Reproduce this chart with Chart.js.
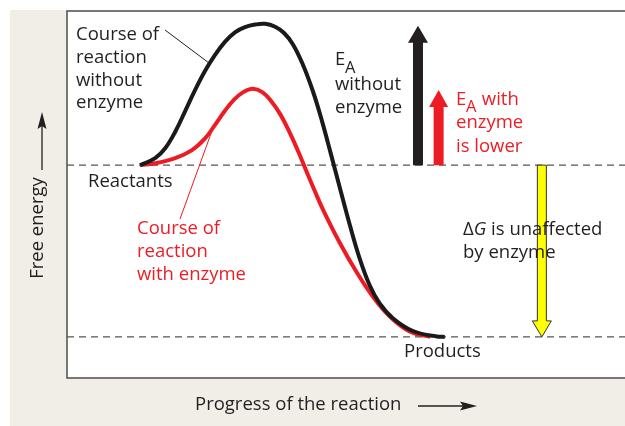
<!DOCTYPE html>
<html>
<head>
<meta charset="utf-8">
<script src="https://cdn.jsdelivr.net/npm/chart.js@4/dist/chart.umd.min.js"></script>
<style>
html,body{margin:0;padding:0;background:#fff;}
canvas{display:block;}
</style>
</head>
<body>
<canvas id="c" width="625" height="426"></canvas>
<script>
// ---- data (progress 0-100, free energy 0-100) ----
const progressWithout = [13.1, 15.8, 17.6, 19.4, 21.2, 22.9, 24.7, 26.5, 28.3, 30.1, 31.9, 33.7, 35.5, 37.3, 38.9, 40.5, 42.3, 44.1, 45.7, 47.3, 49.0, 50.7, 52.4, 54.2, 56.0, 58.4, 62.0, 66.3, 67.7];
const energyWithout   = [58.0, 59.9, 62.6, 67.1, 72.8, 78.3, 83.6, 88.0, 91.6, 94.2, 95.6, 96.3, 96.5, 95.7, 94.0, 90.9, 85.3, 78.0, 70.0, 61.0, 51.2, 41.6, 32.8, 25.4, 20.4, 16.3, 12.8, 11.3, 11.2];
const progressWith    = [13.1, 15.8, 19.4, 22.4, 24.7, 26.5, 28.2, 29.9, 31.6, 33.3, 35.0, 36.6, 38.2, 40.0, 41.5, 43.0, 44.5, 46.0, 48.9, 52.0, 54.8, 57.9, 61.5, 65.1];
const energyWith      = [58.0, 58.5, 59.9, 62.1, 65.2, 68.9, 72.6, 75.8, 77.9, 78.8, 77.9, 75.4, 71.9, 66.6, 61.5, 56.0, 50.6, 45.5, 36.8, 28.6, 22.2, 16.7, 12.6, 11.2];
const reactantsLevel = 58.0;
const productsLevel = 11.2;
const peakWithout = 96.0;
const peakWith = 78.5;
const arrowProgress = [62.9, 66.6, 85.1]; // EA without, EA with, deltaG

function pts(xs, ys){ return xs.map((x,i)=>({x:x, y:ys[i]})); }

const FONT = '"Open Sans", "Noto Sans", sans-serif';
const FS = 18.5;
const TXT = '#231f20';
const RED = '#ed1c24';

const decor = {
  id:'decor',
  beforeDraw(chart){
    const ctx = chart.ctx, a = chart.chartArea;
    ctx.save();
    ctx.fillStyle = '#ffffff';
    ctx.fillRect(0,0,chart.width,chart.height);
    ctx.fillStyle = '#f1eee7';
    ctx.fillRect(10,10,chart.width-10,chart.height-10);
    ctx.fillStyle = '#ffffff';
    ctx.fillRect(a.left,a.top,a.right-a.left,a.bottom-a.top);
    ctx.strokeStyle = '#4d4d4d';
    ctx.lineWidth = 1.5;
    ctx.beginPath();
    ctx.moveTo(chart.width, a.top); ctx.lineTo(a.left, a.top); ctx.lineTo(a.left, a.bottom); ctx.lineTo(chart.width, a.bottom);
    ctx.stroke();
    ctx.restore();
  },
  afterDatasetsDraw(chart){
    const ctx = chart.ctx, xs = chart.scales.x, ys = chart.scales.y;
    function upArrow(xv, y0v, y1v, fill, stroke, shaftW, headW, headH){
      const x = xs.getPixelForValue(xv), y0 = ys.getPixelForValue(y0v), y1 = ys.getPixelForValue(y1v);
      const dir = y1 < y0 ? 1 : -1;
      const hb = y1 + dir*headH;
      ctx.beginPath();
      ctx.moveTo(x-shaftW/2, y0);
      ctx.lineTo(x-shaftW/2, hb);
      ctx.lineTo(x-headW/2, hb);
      ctx.lineTo(x, y1);
      ctx.lineTo(x+headW/2, hb);
      ctx.lineTo(x+shaftW/2, hb);
      ctx.lineTo(x+shaftW/2, y0);
      ctx.closePath();
      ctx.fillStyle = fill; ctx.fill();
      if (stroke){ ctx.strokeStyle = stroke; ctx.lineWidth = 1; ctx.stroke(); }
    }
    ctx.save();
    upArrow(arrowProgress[0], reactantsLevel, peakWithout, '#231f20', null, 10, 20, 17);
    upArrow(arrowProgress[1], reactantsLevel, peakWith, RED, null, 10, 19, 17);
    upArrow(arrowProgress[2], reactantsLevel, productsLevel, '#ffff00', '#333', 9, 19, 16);

    ctx.lineWidth = 1;
    ctx.strokeStyle = TXT;
    ctx.beginPath(); ctx.moveTo(165,30); ctx.lineTo(209,63); ctx.stroke();
    ctx.strokeStyle = RED;
    ctx.beginPath(); ctx.moveTo(213,128); ctx.lineTo(180,219); ctx.stroke();

    ctx.textBaseline = 'middle';
    ctx.textAlign = 'left';
    const F = FS + 'px ' + FONT, FSUB = (FS-2) + 'px ' + FONT;
    ctx.font = F;
    function lines(arr, x, y, lh, color){
      ctx.fillStyle = color;
      arr.forEach((t,i)=>ctx.fillText(t, x, y + i*lh));
    }
    lines(['Course of','reaction','without','enzyme'], 76, 35, 22.7, TXT);
    lines(['Reactants'], 88, 182, 23, TXT);
    lines(['Course of','reaction','with enzyme'], 137, 229, 23, RED);
    lines(['Products'], 404, 352, 23, TXT);
    ctx.fillStyle = TXT;
    ctx.fillText('E', 335, 60);
    ctx.font = FSUB;
    ctx.fillText('A', 345, 68);
    ctx.font = F;
    lines(['without','enzyme'], 335, 85, 23, TXT);
    ctx.fillStyle = RED;
    ctx.fillText('E', 456, 100);
    ctx.font = FSUB;
    ctx.fillText('A', 466, 107);
    ctx.font = F;
    ctx.fillText(' with', 477, 100);
    lines(['enzyme','is lower'], 456, 123, 23.5, RED);
    ctx.fillStyle = TXT;
    ctx.fillText('\u0394', 463, 230);
    let w = ctx.measureText('\u0394').width;
    ctx.font = 'italic ' + F;
    ctx.fillText('G', 463 + w, 230);
    let w2 = ctx.measureText('G').width;
    ctx.font = F;
    ctx.fillText(' is unaffected', 463 + w + w2, 230);
    ctx.fillText('by enzyme', 463, 253);

    ctx.fillText('Progress of the reaction', 195, 405);
    ctx.strokeStyle = TXT; ctx.lineWidth = 1.3;
    ctx.beginPath(); ctx.moveTo(418,406); ctx.lineTo(465,406); ctx.stroke();
    ctx.beginPath(); ctx.moveTo(477,406); ctx.lineTo(460,401.5); ctx.lineTo(463,406); ctx.lineTo(460,410.5); ctx.closePath(); ctx.fillStyle=TXT; ctx.fill();

    ctx.save();
    ctx.translate(38, 228);
    ctx.rotate(-Math.PI/2);
    ctx.textAlign = 'center';
    ctx.fillText('Free energy', 0, 0);
    ctx.restore();
    ctx.beginPath(); ctx.moveTo(42,170); ctx.lineTo(42,124); ctx.stroke();
    ctx.beginPath(); ctx.moveTo(42,112); ctx.lineTo(37.5,129); ctx.lineTo(42,126); ctx.lineTo(46.5,129); ctx.closePath(); ctx.fill();
    ctx.restore();
  }
};

new Chart(document.getElementById('c'), {
  type:'line',
  data:{
    datasets:[
      {data:pts(progressWithout, energyWithout), borderColor:'#1a1a1a', borderWidth:4, pointRadius:0, tension:0.4, borderCapStyle:'butt'},
      {data:pts(progressWith, energyWith), borderColor:RED, borderWidth:4, pointRadius:0, tension:0.4, borderCapStyle:'butt'},
      {data:[{x:0,y:reactantsLevel},{x:100,y:reactantsLevel}], borderColor:'#555', borderWidth:1.3, borderDash:[7,5], pointRadius:0},
      {data:[{x:0,y:productsLevel},{x:100,y:productsLevel}], borderColor:'#555', borderWidth:1.3, borderDash:[7,5], pointRadius:0}
    ]
  },
  options:{
    responsive:false,
    animation:false,
    layout:{padding:{left:67, top:11, right:0, bottom:48}},
    plugins:{legend:{display:false}, tooltip:{enabled:false}},
    scales:{
      x:{type:'linear', min:0, max:100, display:false},
      y:{type:'linear', min:0, max:100, display:false}
    }
  },
  plugins:[decor]
});
</script>
</body>
</html>
